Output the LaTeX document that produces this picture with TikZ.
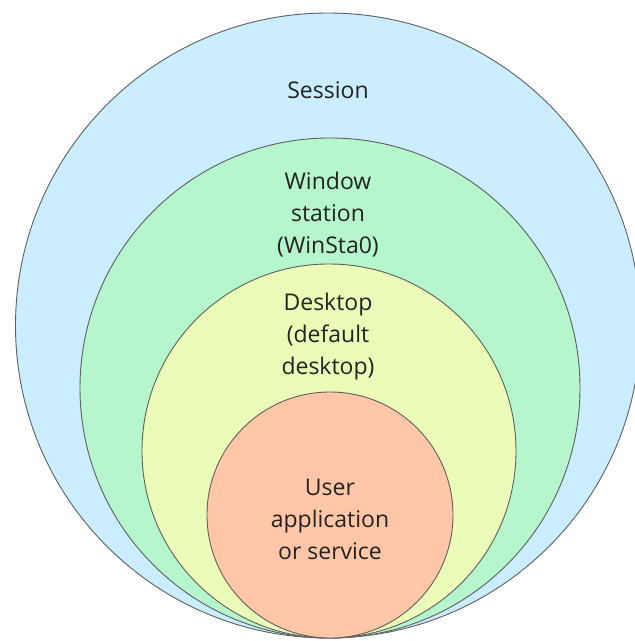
\documentclass[tikz,border=0pt]{standalone}
\usepackage{fontspec}
\setmainfont{Open Sans}

\definecolor{sessionblue}{RGB}{202,237,255}
\definecolor{stationgreen}{RGB}{182,246,204}
\definecolor{desktopyellow}{RGB}{234,252,184}
\definecolor{appsalmon}{RGB}{255,198,168}
\definecolor{ringgray}{RGB}{95,95,95}
\definecolor{labelgray}{RGB}{35,35,35}

\begin{document}
\begin{tikzpicture}[x=1pt,y=1pt,
    ring/.style={circle,draw=ringgray,line width=0.9pt,inner sep=0pt},
    lbl/.style={align=center,text=labelgray,font=\fontsize{23}{32}\selectfont}]
        \clip (0,0) rectangle (635,641);

        % nested rings, all touching at the bottom
        \node[ring,fill=sessionblue,minimum size=625pt] (session) at (328,315.5) {};
        \node[ring,fill=stationgreen,minimum size=500pt] (station) at (330,253) {};
        \node[ring,fill=desktopyellow,minimum size=374pt] (desktop) at (329,190) {};
        \node[ring,fill=appsalmon,minimum size=246pt] (app) at (330,126) {};

        \node[lbl] (sessionlbl) at (328,551) {Session};
        \node[lbl] (stationlbl) at (328,426) {Window\\station\\(WinSta0)};
        \node[lbl] (desktoplbl) at (328,304) {Desktop\\(default\\desktop)};
        \node[lbl] (applbl) at (330,122) {User\\application\\or service};
    \end{tikzpicture}
\end{document}
